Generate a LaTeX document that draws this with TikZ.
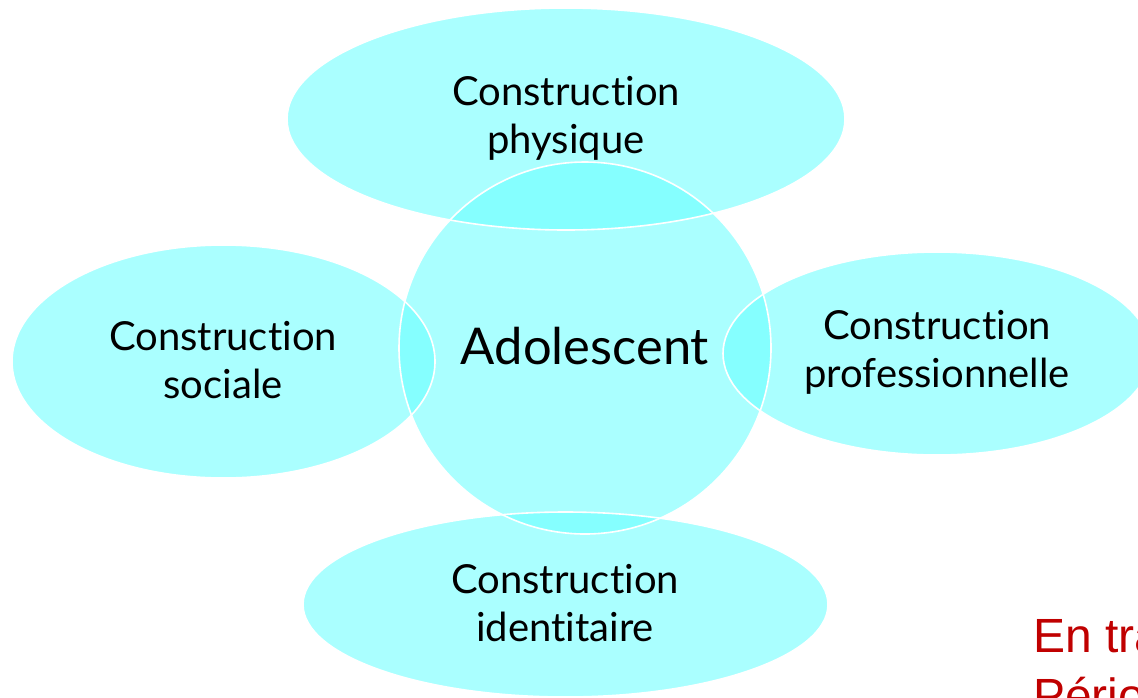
\documentclass[tikz,border=0pt]{standalone}
\usepackage{fontspec}
\setmainfont[Ligatures={NoCommon}]{Lato}
\newfontfamily\redfont{Liberation Sans}
\definecolor{basecyan}{HTML}{AAFFFF}
\definecolor{overcyan}{HTML}{85FFFF}
\definecolor{redtext}{HTML}{C00000}
\tikzset{
  lbl/.style={align=center, inner sep=0pt, text=black, font=\fontsize{30}{36}\selectfont},
  bigl/.style={inner sep=0pt, text=black, font=\fontsize{38}{44}\selectfont},
  outline/.style={draw=white, line width=1.2pt},
  redl/.style={anchor=base west, inner sep=0pt, text=redtext, font=\redfont\fontsize{36}{44}\selectfont}
}
\begin{document}
\begin{tikzpicture}[x=0.75pt,y=-0.75pt]
\useasboundingbox (0,0) rectangle (1138,697);
\fill[white] (0,0) rectangle (1138,697);
\clip (0,0) rectangle (1138,697);
\def\topE{(566,119) ellipse [x radius=279, y radius=111]}
\def\leftE{(223.5,361.5) ellipse [x radius=211.5, y radius=116.5]}
\def\rightE{(937,353.5) ellipse [x radius=214, y radius=101.5]}
\def\botE{(565.5,604.5) ellipse [x radius=262.5, y radius=92.5]}
\def\cenC{(585,348) circle [radius=186]}
% base fills
\fill[basecyan] \topE;
\fill[basecyan] \leftE;
\fill[basecyan] \rightE;
\fill[basecyan] \botE;
\fill[basecyan] \cenC;
% overlaps
\begin{scope}\clip \cenC; \fill[overcyan] \topE; \end{scope}
\begin{scope}\clip \cenC; \fill[overcyan] \leftE; \end{scope}
\begin{scope}\clip \cenC; \fill[overcyan] \rightE; \end{scope}
\begin{scope}\clip \cenC; \fill[overcyan] \botE; \end{scope}
% outlines
\draw[outline] \topE;
\draw[outline] \leftE;
\draw[outline] \rightE;
\draw[outline] \botE;
\draw[outline] \cenC;
% labels
\node[lbl] (phys) at (566,118) {Construction\\physique};
\node[lbl] (soc) at (223,360) {Construction\\sociale};
\node[lbl] (prof) at (937,352) {Construction\\professionnelle};
\node[lbl] (ident) at (565,603) {Construction\\identitaire};
\node[bigl] (ado) at (585,346) {Adolescent};
\node[redl] (red1) at (1033,652) {En tra};
\node[redl] (red2) at (1033,712) {Pério};
\end{tikzpicture}
\end{document}
